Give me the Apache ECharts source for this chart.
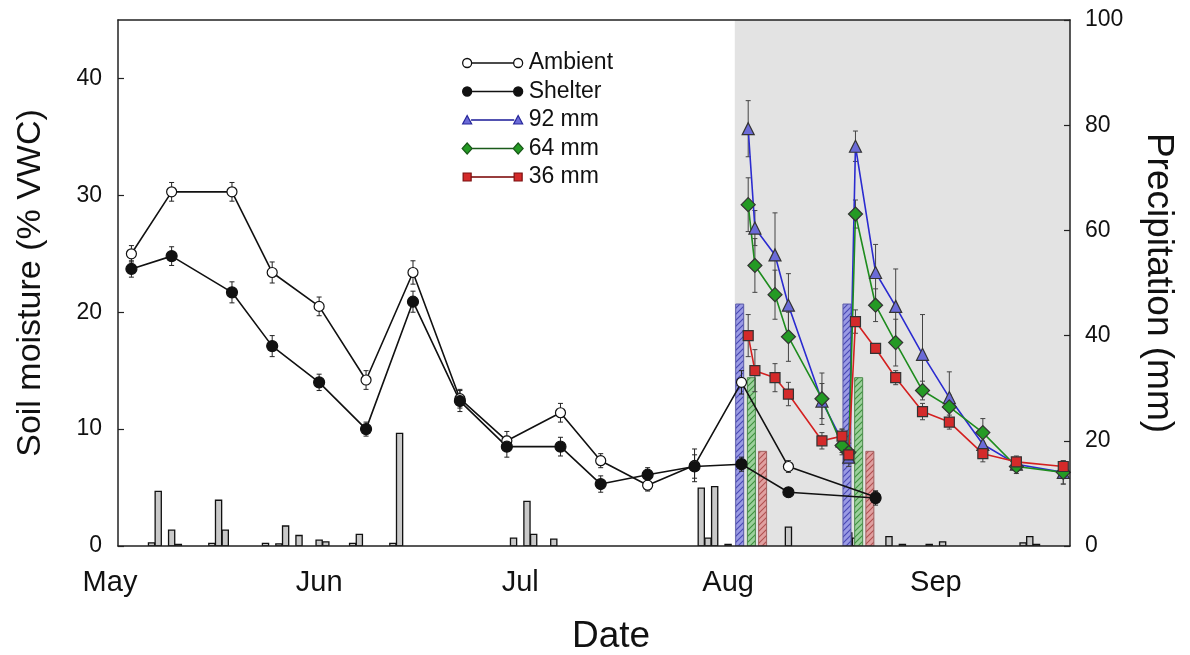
<!DOCTYPE html>
<html>
<head>
<meta charset="utf-8">
<script src="https://cdn.jsdelivr.net/npm/echarts@6/dist/echarts.min.js"></script>
<style>
html,body{margin:0;padding:0;background:#fff;}
#chart{width:1190px;height:655px;}
</style>
</head>
<body>
<div id="chart"></div>
<script>
// ---- DATA (x values are days since May 1) ----
const monthStartDays = [0, 31, 61, 92, 123];
const monthLabels = ['May', 'Jun', 'Jul', 'Aug', 'Sep'];
const xMin = 1, xMax = 143;
const moistureTicks = [0, 10, 20, 30, 40];
const precipTicks = [0, 20, 40, 60, 80, 100];

const ambShelDays = [3, 9, 18, 24, 31, 38, 45, 52, 59, 67, 73, 80, 87, 94, 101, 114];
const ambient     = [25.0, 30.3, 30.3, 23.4, 20.5, 14.2, 23.4, 12.6, 9.0, 11.4, 7.3, 5.2, 6.9, 14.0, 6.8, 4.2];
const ambientErr  = [0.7, 0.8, 0.8, 0.9, 0.8, 0.8, 1.0, 0.8, 0.8, 0.8, 0.6, 0.5, 1.4, 1.0, 0.5, 0.5];
const shelter     = [23.7, 24.8, 21.7, 17.1, 14.0, 10.0, 20.9, 12.4, 8.5, 8.5, 5.3, 6.1, 6.8, 7.0, 4.6, 4.1];
const shelterErr  = [0.7, 0.8, 0.9, 0.9, 0.7, 0.6, 0.9, 0.9, 0.9, 0.8, 0.7, 0.6, 1.0, 0.6, 0.4, 0.6];

const trtDays  = [95, 96, 99, 101, 106, 109, 110, 111, 114, 117, 121, 125, 130, 135, 142];
const mm92     = [35.7, 27.2, 24.9, 20.6, 12.4, 9.0, 7.6, 34.2, 23.4, 20.5, 16.4, 12.7, 8.7, 7.0, 6.3];
const mm92Err  = [2.4, 1.5, 3.6, 2.7, 1.5, 1.0, 0.8, 1.3, 2.4, 3.2, 3.4, 2.2, 1.0, 0.5, 1.0];
const mm64     = [29.2, 24.0, 21.5, 17.9, 12.6, 8.6, 8.0, 28.4, 20.6, 17.4, 13.3, 11.9, 9.7, 6.8, 6.3];
const mm64Err  = [2.3, 2.3, 2.1, 2.1, 2.2, 0.8, 0.8, 1.2, 1.4, 2.0, 0.8, 1.0, 1.2, 0.6, 1.0];
const mm36     = [18.0, 15.0, 14.4, 13.0, 9.0, 9.4, 7.8, 19.2, 16.9, 14.4, 11.5, 10.6, 7.9, 7.2, 6.8];
const mm36Err  = [1.8, 1.8, 1.2, 1.0, 0.7, 0.6, 0.6, 1.0, 0.4, 0.6, 0.7, 0.6, 0.7, 0.5, 0.4];

const rainDays = [6, 7, 9, 10, 15, 16, 17, 23, 25, 26, 28, 31, 32, 36, 37, 42, 43, 60, 62, 63, 66, 88, 89, 90, 92, 101, 110, 111, 116, 118, 122, 124, 136, 137, 138];
const rainMm   = [0.6, 10.4, 3.0, 0.3, 0.5, 8.7, 3.0, 0.5, 0.4, 3.8, 2.0, 1.1, 0.8, 0.5, 2.2, 0.5, 21.4, 1.5, 8.5, 2.2, 1.3, 11.0, 1.5, 11.3, 0.3, 3.6, 2.5, 1.5, 1.8, 0.3, 0.3, 0.8, 0.6, 1.8, 0.3];

const pulseDays = [95, 111];
const pulse92 = [46, 46];
const pulse64 = [32, 32];
const pulse36 = [18, 18];
const shadeStart = 93;

// ---- helpers ----
const FONT = 'Liberation Sans, Arial, sans-serif';

function hatch(bg, fg) {
  const c = document.createElement('canvas');
  c.width = 6; c.height = 6;
  const g = c.getContext('2d');
  g.fillStyle = bg; g.fillRect(0, 0, 6, 6);
  g.strokeStyle = fg; g.lineWidth = 1.1;
  g.beginPath();
  g.moveTo(0, 6); g.lineTo(6, 0);
  g.moveTo(-3, 3); g.lineTo(3, -3);
  g.moveTo(3, 9); g.lineTo(9, 3);
  g.stroke();
  return c;
}

function errSeries(days, vals, errs, color, z) {
  return {
    type: 'custom', silent: true, z: z, clip: true,
    xAxisIndex: 0, yAxisIndex: 0,
    data: days.map((d, i) => [d, vals[i] - errs[i], vals[i] + errs[i]]),
    renderItem(params, api) {
      const lo = api.coord([api.value(0), api.value(1)]);
      const hi = api.coord([api.value(0), api.value(2)]);
      const cw = 2.5;
      const st = { stroke: color, lineWidth: 1 };
      return {
        type: 'group', children: [
          { type: 'line', shape: { x1: lo[0], y1: lo[1], x2: hi[0], y2: hi[1] }, style: st },
          { type: 'line', shape: { x1: lo[0] - cw, y1: lo[1], x2: lo[0] + cw, y2: lo[1] }, style: st },
          { type: 'line', shape: { x1: hi[0] - cw, y1: hi[1], x2: hi[0] + cw, y2: hi[1] }, style: st }
        ]
      };
    }
  };
}

function pulseSeries(vals, pxOffset, pattern, stroke) {
  return {
    type: 'custom', silent: true, z: 1, clip: true,
    xAxisIndex: 0, yAxisIndex: 1,
    data: pulseDays.map((d, i) => [d, vals[i]]),
    renderItem(params, api) {
      const base = api.coord([api.value(0), 0]);
      const top = api.coord([api.value(0), api.value(1)]);
      const w = 8;
      return {
        type: 'rect',
        shape: { x: base[0] + pxOffset - w / 2, y: top[1], width: w, height: base[1] - top[1] },
        style: { fill: { image: pattern, repeat: 'repeat' }, stroke: stroke, lineWidth: 1 }
      };
    }
  };
}

function lineSeries(name, days, vals, symbol, size, fill, border, lineColor) {
  return {
    name: name, type: 'line', z: 4,
    xAxisIndex: 0, yAxisIndex: 0,
    data: days.map((d, i) => [d, vals[i]]),
    symbol: symbol, symbolSize: size, showSymbol: true,
    itemStyle: { color: fill, borderColor: border, borderWidth: 1.2 },
    lineStyle: { color: lineColor, width: 1.6 },
    emphasis: { disabled: true },
    clip: true
  };
}

// legend icons: a line with a marker at each end (box 62 x 12)
const LINE_PART = 'M10 5.8 L52 5.8 L52 6.2 L10 6.2 Z ';
const legendIcons = {
  circle: 'path://' + LINE_PART +
    'M1 6 A4.5 4.5 0 1 0 10 6 A4.5 4.5 0 1 0 1 6 Z M52 6 A4.5 4.5 0 1 0 61 6 A4.5 4.5 0 1 0 52 6 Z M0 0 Z M62 12 Z',
  triangle: 'path://' + LINE_PART +
    'M5.5 1.5 L10 10 L1 10 Z M56.5 1.5 L61 10 L52 10 Z M0 0 Z M62 12 Z',
  diamond: 'path://' + LINE_PART +
    'M5.5 0.5 L10.5 6 L5.5 11.5 L0.5 6 Z M56.5 0.5 L61.5 6 L56.5 11.5 L51.5 6 Z M0 0 Z M62 12 Z',
  square: 'path://' + LINE_PART +
    'M1.5 2 L9.5 2 L9.5 10 L1.5 10 Z M52.5 2 L60.5 2 L60.5 10 L52.5 10 Z M0 0 Z M62 12 Z'
};

const chart = echarts.init(document.getElementById('chart'));

const option = {
  animation: false,
  backgroundColor: '#fff',
  textStyle: { fontFamily: FONT },
  grid: { left: 118, right: 120, top: 20, bottom: 109, containLabel: false, outerBoundsMode: 'none' },
  legend: {
    orient: 'vertical', left: 461, top: 51, padding: 0,
    itemWidth: 62, itemHeight: 12, itemGap: 4.5,
    symbolKeepAspect: false,
    textStyle: { fontSize: 23, color: '#111', fontFamily: FONT, lineHeight: 24 },
    data: [
      { name: 'Ambient', icon: legendIcons.circle, itemStyle: { color: '#ffffff', borderColor: '#111', borderWidth: 1.3 } },
      { name: 'Shelter', icon: legendIcons.circle, itemStyle: { color: '#111111', borderColor: '#111', borderWidth: 1.3 } },
      { name: '92 mm', icon: legendIcons.triangle, itemStyle: { color: '#6b6bd8', borderColor: '#26269a', borderWidth: 1.2 } },
      { name: '64 mm', icon: legendIcons.diamond, itemStyle: { color: '#249a24', borderColor: '#1a5a1a', borderWidth: 1.2 } },
      { name: '36 mm', icon: legendIcons.square, itemStyle: { color: '#d42a2a', borderColor: '#7a1010', borderWidth: 1.2 } }
    ]
  },
  xAxis: [{
    type: 'value', min: xMin, max: xMax, position: 'bottom', z: 10,
    axisLine: { show: true, onZero: false, lineStyle: { color: '#222', width: 1.5 } },
    axisTick: { show: false },
    splitLine: { show: false },
    axisLabel: {
      customValues: monthStartDays.map(d => Math.max(d, xMin)),
      margin: 22, fontSize: 29, color: '#111', fontFamily: FONT,
      formatter: function (v) {
        const i = monthStartDays.map(d => Math.max(d, xMin)).indexOf(v);
        if (i === 0 && monthStartDays[0] < xMin) return '{m|' + monthLabels[0] + '}';
        return i >= 0 ? monthLabels[i] : '';
      },
      rich: { m: { fontSize: 29, color: '#111', fontFamily: FONT, padding: [0, 16, 0, 0] } }
    },
    name: 'Date', nameLocation: 'middle', nameGap: 72,
    nameTextStyle: { fontSize: 37, color: '#111', fontFamily: FONT, padding: [0, 0, 0, 34] }
  }, {
    type: 'value', min: xMin, max: xMax, position: 'top', z: 10,
    axisLine: { show: true, onZero: false, lineStyle: { color: '#222', width: 1.5 } },
    axisTick: { show: false }, axisLabel: { show: false }, splitLine: { show: false }
  }],
  yAxis: [{
    type: 'value', min: 0, max: 45, position: 'left', z: 10,
    axisLine: { show: true, lineStyle: { color: '#222', width: 1.5 } },
    axisTick: { show: true, inside: true, length: 6, customValues: moistureTicks, lineStyle: { color: '#222', width: 1.2 } },
    axisLabel: { customValues: moistureTicks, margin: 16, fontSize: 23, color: '#111', fontFamily: FONT },
    splitLine: { show: false },
    name: 'Soil moisture (% VWC)', nameLocation: 'middle', nameGap: 70,
    nameTextStyle: { fontSize: 34, color: '#111', fontFamily: FONT }
  }, {
    type: 'value', min: 0, max: 100, interval: 20, position: 'right', z: 10,
    axisLine: { show: true, lineStyle: { color: '#222', width: 1.5 } },
    axisTick: { show: true, inside: true, length: 6, customValues: precipTicks, lineStyle: { color: '#222', width: 1.2 } },
    axisLabel: { customValues: precipTicks, margin: 15, fontSize: 23, color: '#111', fontFamily: FONT },
    splitLine: { show: false },
    name: 'Precipitation (mm)', nameLocation: 'middle', nameGap: 70, nameRotate: -90,
    nameTextStyle: { fontSize: 37, color: '#111', fontFamily: FONT }
  }],
  series: [
    {
      type: 'custom', silent: true, z: 0, clip: true, xAxisIndex: 0, yAxisIndex: 0,
      data: [[shadeStart, xMax]],
      renderItem(params, api) {
        const a = api.coord([api.value(0), 45]);
        const b = api.coord([api.value(1), 0]);
        return { type: 'rect', shape: { x: a[0], y: a[1], width: b[0] - a[0], height: b[1] - a[1] }, style: { fill: '#e3e3e3' } };
      }
    },
    {
      type: 'custom', silent: true, z: 1, clip: true, xAxisIndex: 0, yAxisIndex: 1,
      data: rainDays.map((d, i) => [d, rainMm[i]]),
      renderItem(params, api) {
        const base = api.coord([api.value(0), 0]);
        const top = api.coord([api.value(0), api.value(1)]);
        const w = api.size([1, 0])[0] * 0.92;
        return {
          type: 'rect',
          shape: { x: base[0] - w / 2, y: top[1], width: w, height: base[1] - top[1] },
          style: { fill: '#c9c9c9', stroke: '#111', lineWidth: 1.3 }
        };
      }
    },
    pulseSeries(pulse92, -8.5, hatch('#9a9ae4', '#4848b4'), '#5a5aa8'),
    pulseSeries(pulse64, 3.2, hatch('#9cd09c', '#3e923e'), '#4a8a4a'),
    pulseSeries(pulse36, 14.4, hatch('#e0a0a0', '#b05050'), '#a06060'),
    errSeries(ambShelDays, ambient, ambientErr, '#222', 2),
    errSeries(ambShelDays, shelter, shelterErr, '#222', 2),
    errSeries(trtDays, mm92, mm92Err, '#444', 2),
    errSeries(trtDays, mm64, mm64Err, '#444', 2),
    errSeries(trtDays, mm36, mm36Err, '#444', 2),
    lineSeries('Ambient', ambShelDays, ambient, 'circle', 10, '#ffffff', '#111', '#111'),
    lineSeries('Shelter', ambShelDays, shelter, 'circle', 11, '#111111', '#111', '#111'),
    lineSeries('92 mm', trtDays, mm92, 'triangle', 12, '#6b6bd8', '#333', '#2b2bd0'),
    lineSeries('64 mm', trtDays, mm64, 'diamond', 14, '#249a24', '#333', '#1e8c1e'),
    lineSeries('36 mm', trtDays, mm36, 'rect', 10, '#d42a2a', '#333', '#d42020')
  ]
};

chart.setOption(option);
</script>
</body>
</html>
